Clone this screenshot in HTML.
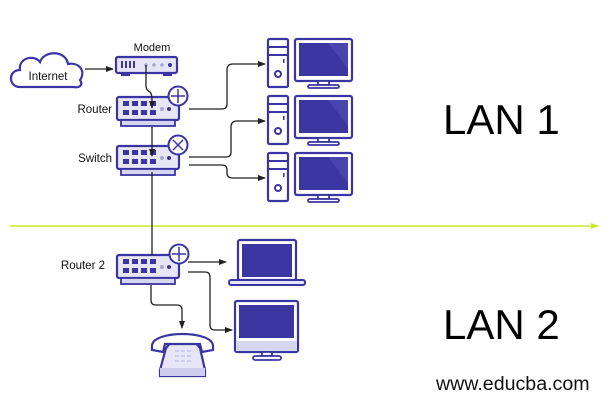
<!DOCTYPE html>
<html><head><meta charset="utf-8"><style>
html,body{margin:0;padding:0;background:#fff;}
svg{display:block;}
text{font-family:"Liberation Sans",Arial,sans-serif;}
</style></head><body>
<svg width="608" height="413" viewBox="0 0 608 413" xmlns="http://www.w3.org/2000/svg">
<defs>
<marker id="ah" markerWidth="8" markerHeight="8" refX="7" refY="4" orient="auto" markerUnits="userSpaceOnUse">
<path d="M0,1 L8,4 L0,7 Z" fill="#222"/></marker>
<marker id="gh" markerWidth="8" markerHeight="8" refX="7" refY="4" orient="auto" markerUnits="userSpaceOnUse">
<path d="M0,1 L8,4 L0,7 Z" fill="#c8ec2c"/></marker>
<g id="ports">
<rect x="0" y="0" width="62" height="23" rx="2" fill="#e6e6f7" stroke="#3b35a3" stroke-width="2.2"/>
<rect x="4" y="23" width="54" height="6" fill="#d6d6ef" stroke="#3b35a3" stroke-width="1.8"/>
<g fill="#3b35a3">
<rect x="6" y="4" width="6" height="5"/><rect x="15" y="4" width="6" height="5"/><rect x="24" y="4" width="6" height="5"/><rect x="33" y="4" width="6" height="5"/>
<rect x="6" y="13" width="6" height="5"/><rect x="15" y="13" width="6" height="5"/><rect x="24" y="13" width="6" height="5"/><rect x="33" y="13" width="6" height="5"/>
<circle cx="52" cy="12" r="2"/></g>
<circle cx="45" cy="12" r="2" fill="#a9a6dc"/>
</g>
<g id="pc">
<rect x="0" y="0" width="20" height="48" rx="1.5" fill="#fff" stroke="#3b35a3" stroke-width="2.2"/>
<line x1="0" y1="8" x2="20" y2="8" stroke="#3b35a3" stroke-width="2"/>
<line x1="0" y1="16" x2="20" y2="16" stroke="#3b35a3" stroke-width="2"/>
<circle cx="10" cy="35" r="3" fill="none" stroke="#3b35a3" stroke-width="2"/>
<rect x="15" y="20" width="1.5" height="4" fill="#3b35a3"/>
<rect x="27" y="0" width="57" height="42" rx="2" fill="#fff" stroke="#3b35a3" stroke-width="2.2"/>
<rect x="31" y="4" width="49" height="33" fill="#3c36a0"/>
<path d="M60,4 L80,4 L80,30 Z" fill="#4a44ad"/>
<rect x="50" y="42" width="11" height="4" fill="#fff" stroke="#3b35a3" stroke-width="1.8"/>
<rect x="40" y="46" width="31" height="3" rx="1.5" fill="#fff" stroke="#3b35a3" stroke-width="1.8"/>
</g>
</defs>

<line x1="10" y1="226" x2="598" y2="226" stroke="#c8ec2c" stroke-width="1.5" marker-end="url(#gh)"/>

<path d="M20,87 C8,87 8,70 20,70 C18,58 34,54 40,62 C44,50 66,50 68,64 C80,62 86,72 80,80 C84,86 78,88 74,87 Z" fill="#fff" stroke="#3b35a3" stroke-width="2.2"/>
<text x="48" y="80" font-size="11.5" text-anchor="middle" fill="#111">Internet</text>

<text x="152" y="51" font-size="11" text-anchor="middle" fill="#111">Modem</text>
<rect x="116" y="57" width="61" height="16" rx="2" fill="#e6e6f7" stroke="#3b35a3" stroke-width="2.2"/>
<rect x="121" y="73" width="9" height="3" fill="#3b35a3"/><rect x="163" y="73" width="9" height="3" fill="#3b35a3"/>
<g fill="#3b35a3"><rect x="121" y="61" width="2" height="7"/><rect x="125" y="61" width="2" height="7"/><rect x="129" y="61" width="2" height="7"/><rect x="133" y="61" width="2" height="7"/><circle cx="170" cy="65" r="2"/></g>
<g fill="#a9a6dc"><circle cx="146" cy="65" r="1.8"/><circle cx="154" cy="65" r="1.8"/><circle cx="162" cy="65" r="1.8"/></g>

<text x="112" y="113" font-size="11.5" text-anchor="end" fill="#111">Router</text>
<use href="#ports" x="117" y="97"/>
<circle cx="178" cy="96" r="9.5" fill="#fff" stroke="#3b35a3" stroke-width="2"/>
<path d="M178,89 V103 M171,96 H185" stroke="#3b35a3" stroke-width="1.5"/>

<text x="112" y="162" font-size="11.5" text-anchor="end" fill="#111">Switch</text>
<use href="#ports" x="117" y="146"/>
<circle cx="178" cy="145" r="9.5" fill="#fff" stroke="#3b35a3" stroke-width="2"/>
<path d="M173,140 L183,150 M183,140 L173,150" stroke="#3b35a3" stroke-width="1.5"/>

<text x="105" y="269" font-size="11.5" text-anchor="end" fill="#111">Router 2</text>
<use href="#ports" x="117" y="255"/>
<circle cx="179" cy="254" r="9.5" fill="#fff" stroke="#3b35a3" stroke-width="2"/>
<path d="M179,247 V261 M172,254 H186" stroke="#3b35a3" stroke-width="1.5"/>

<use href="#pc" x="268" y="39"/>
<use href="#pc" x="268" y="96"/>
<use href="#pc" x="268" y="153"/>

<rect x="238" y="240" width="58" height="40" rx="2" fill="#fff" stroke="#3b35a3" stroke-width="2.2"/>
<rect x="242" y="244" width="50" height="33" fill="#3c36a0"/>
<rect x="229" y="280" width="76" height="5" rx="2" fill="#e6e6f7" stroke="#3b35a3" stroke-width="2"/>

<rect x="235" y="301" width="63" height="51" rx="2" fill="#fff" stroke="#3b35a3" stroke-width="2.2"/>
<rect x="239" y="305" width="55" height="33" fill="#3c36a0"/>
<rect x="236" y="341" width="61" height="10" fill="#d6d6ef"/>
<rect x="262" y="352" width="10" height="4" fill="#fff" stroke="#3b35a3" stroke-width="1.8"/>
<rect x="253" y="356" width="28" height="4" rx="2" fill="#fff" stroke="#3b35a3" stroke-width="1.8"/>

<path d="M166,348 L172,341 L194,341 L200,348 L205,370 L205,376 L160,376 L160,370 Z" fill="#e6e6f7" stroke="#3b35a3" stroke-width="2.2"/>
<path d="M152,346 C152,330 213,330 213,346 L213,350 L202,352 L200,344 L165,344 L163,352 L152,350 Z" fill="#fff" stroke="#3b35a3" stroke-width="2.2"/>
<rect x="160" y="368" width="45" height="8" fill="#cfcdee"/>
<g fill="#cfcdee"><rect x="175" y="350" width="4" height="2"/><rect x="181" y="350" width="4" height="2"/><rect x="187" y="350" width="4" height="2"/><rect x="175" y="355" width="4" height="2"/><rect x="181" y="355" width="4" height="2"/><rect x="187" y="355" width="4" height="2"/><rect x="175" y="360" width="4" height="2"/><rect x="181" y="360" width="4" height="2"/><rect x="187" y="360" width="4" height="2"/></g>

<g fill="none" stroke="#222" stroke-width="1.3">
<line x1="85" y1="69" x2="113" y2="69" marker-end="url(#ah)"/>
<path d="M146,65 V86 Q146,90 150,92 Q152,94 152,100 V108" marker-end="url(#ah)"/>
<path d="M152,127 V156" marker-end="url(#ah)"/>
<path d="M152,172 V255"/>
<path d="M189,109 H222 Q227,109 227,104 V70 Q227,64 233,64 H265" marker-end="url(#ah)"/>
<path d="M189,157 H226 Q231,157 231,152 V127 Q231,121 237,121 H265" marker-end="url(#ah)"/>
<path d="M189,165 H222 Q227,165 227,170 V173 Q227,178 233,178 H265" marker-end="url(#ah)"/>
<path d="M188,262 H226" marker-end="url(#ah)"/>
<path d="M188,272 H205 Q210,272 210,277 V325 Q210,330 215,330 H232" marker-end="url(#ah)"/>
<path d="M151,285 V300 Q151,305 156,305 H177 Q182,305 182,310 V328" marker-end="url(#ah)"/>
</g>

<text x="443" y="134" font-size="42" fill="#000">LAN 1</text>
<text x="443" y="339" font-size="42" fill="#000">LAN 2</text>
<text x="436" y="390" font-size="19.6" fill="#111">www.educba.com</text>
</svg>
</body></html>
